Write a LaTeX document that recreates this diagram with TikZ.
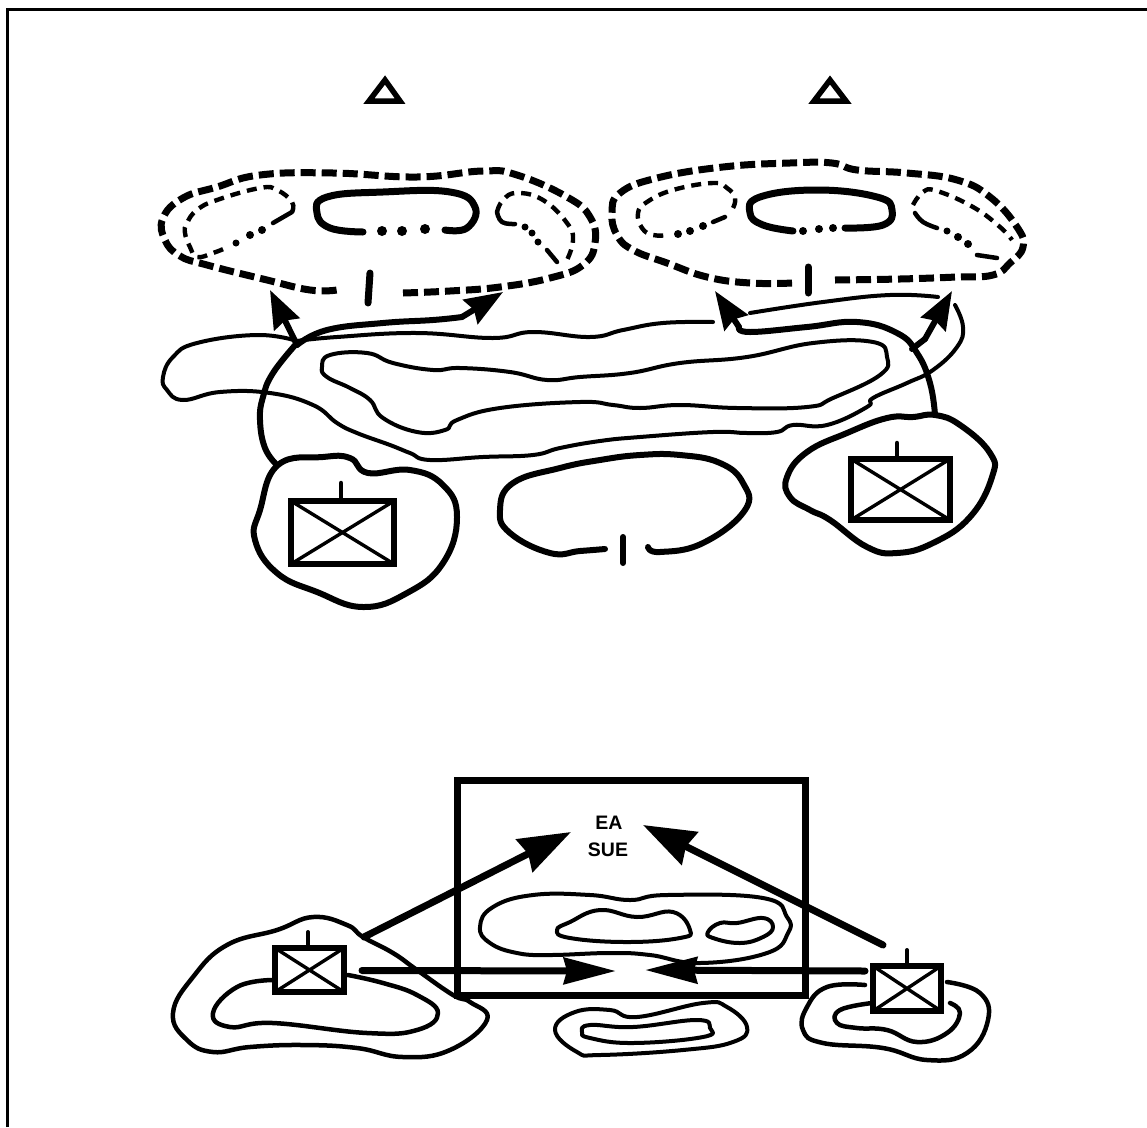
\documentclass[tikz,border=0pt]{standalone}
\usepackage{fontspec}
\setmainfont{Liberation Sans}
\usetikzlibrary{arrows.meta}
\tikzset{
  thin line/.style={line width=4pt,line cap=round,line join=round},
  mid thin/.style={line width=4.5pt,line cap=round,line join=round},
  med line/.style={line width=6pt,line cap=round,line join=round},
  heavy line/.style={line width=7pt,line cap=round,line join=round},
  dash big/.style={line width=7pt,dash pattern=on 15pt off 6pt,line join=round},
  dash small/.style={line width=4.4pt,dash pattern=on 10pt off 7pt,line join=round},
  dotmark/.style={fill=black,draw=none},
  xbox/.style={line width=5.5pt,line join=miter},
  xcross/.style={line width=3.4pt},
  small head/.style={-{Stealth[length=38pt,width=28pt,inset=4pt]}},
  big head/.style={-{Stealth[length=52pt,width=36pt,inset=4pt]}},
  flat head/.style={-{Stealth[length=52pt,width=26pt,inset=3pt]}},
  tri/.style={line width=5.5pt,line join=miter}
}
\begin{document}
\begin{tikzpicture}[x=1pt,y=-1pt,tension=0.75]
\useasboundingbox (0,0) rectangle (1147,1127);
\fill[white] (0,0) rectangle (1147,1127);
% frame
\draw[line width=3pt] (7,1127) -- (7,9.5) -- (1147,9.5);
% triangles
\draw[tri] (385,80) -- (400,101) -- (369,101) -- cycle;
\draw[tri] (830,80) -- (846,101) -- (814,101) -- cycle;
% --- upper left objective
\draw[dash big] plot[smooth] coordinates {(403,293) (450,291) (500,287) (550,278) (583,265) (595,243) (590,217) (567,197) (517,175) (483,171) (417,177) (333,173) (260,175) (217,187) (183,198) (163,218) (165,240) (180,256) (207,265) (267,280) (310,290) (337,290)};
\draw[dash small] plot[smooth] coordinates {(292,212) (292,202) (277,190) (260,188) (217,200) (197,210) (187,223) (185,233) (190,247) (197,257) (213,253) (228,247)};
\fill[dotmark] (236,243) circle (3.5) (250,235) circle (4) (262,230) circle (4);
\draw[mid thin] (273,223) -- (292,212);
\draw[heavy line] plot[smooth] coordinates {(363,232) (330,228) (317,213) (327,197) (383,192) (450,192) (475,207) (467,228) (445,230)};
\fill[dotmark] (382,231) circle (5) (402,231) circle (5) (425,229) circle (5);
\draw[dash small] plot[smooth] coordinates {(497,212) (503,200) (517,193) (543,200) (567,223) (573,240) (567,260)};
\draw[mid thin] plot[smooth] coordinates {(497,212) (502,222) (515,224)};
\fill[dotmark] (525,227) circle (3.5) (532,233) circle (3.5) (538,242) circle (3.5);
\draw[mid thin] (547,250) -- (557,262);
\draw[heavy line] (370,273) -- (368,303);
% --- upper right objective
\draw[dash big] plot[smooth] coordinates {(835,280) (900,279) (957,277) (993,275) (1010,263) (1023,247) (1017,227) (990,197) (957,180) (907,173) (857,170) (832,163) (790,163) (723,167) (657,178) (620,193) (612,213) (617,235) (633,250) (667,263) (707,277) (750,283) (793,283)};
\draw[dash small] plot[smooth] coordinates {(733,208) (735,198) (727,188) (713,183) (673,190) (647,202) (638,213) (642,228) (653,235) (668,235)};
\fill[dotmark] (678,234) circle (4) (690,231) circle (4) (703,226) circle (4);
\draw[mid thin] (713,222) -- (725,217);
\draw[heavy line] plot[smooth] coordinates {(793,231) (763,225) (750,213) (760,197) (817,190) (877,197) (892,210) (883,225) (845,228)};
\fill[dotmark] (803,231) circle (4) (819,229) circle (4) (833,228) circle (4);
\draw[dash small] plot[smooth] coordinates {(913,205) (923,192) (937,191) (973,207) (1000,227) (1012,240)};
\draw[mid thin] plot[smooth] coordinates {(915,213) (923,222) (937,228)};
\fill[dotmark] (947,231) circle (3.5) (958,237) circle (4) (968,244) circle (4);
\draw[mid thin] plot[smooth] coordinates {(977,255) (997,258)};
\draw[heavy line] (808,267) -- (808,293);
% --- thin terrain, top band
\draw[thin line] plot[smooth] coordinates {(297,341) (257,335) (197,343) (173,357) (163,377) (167,390) (183,400) (220,392) (270,393) (313,405) (337,423) (357,433) (390,445) (410,453) (430,460) (483,457) (533,455) (560,448) (600,441) (640,437) (713,432) (747,433) (777,432) (793,425) (827,425) (867,407) (873,398) (907,383) (933,370) (957,347) (963,327) (955,305)};
\draw[thin line] plot[smooth] coordinates {(297,341) (337,337) (417,333) (493,338) (533,332) (590,337) (623,330) (663,323) (713,322)};
\draw[thin line] plot[smooth] coordinates {(750,313) (823,302) (890,295) (938,297)};
\draw[thin line] plot[smooth cycle] coordinates {(322,367) (330,355) (367,353) (393,363) (433,370) (460,368) (510,372) (547,380) (580,377) (630,373) (680,363) (747,357) (813,343) (873,342) (887,357) (880,375) (833,398) (807,407) (737,408) (680,405) (640,408) (613,405) (580,402) (500,408) (457,420) (445,430) (417,432) (383,418) (370,400) (350,388) (327,377)};
% --- thick attack routes
\draw[med line] plot[smooth] coordinates {(277,465) (265,448) (260,420) (263,397) (273,373) (297,343)};
\draw[med line,small head] (297,345) -- (270,290);
\draw[med line] plot[smooth] coordinates {(297,345) (327,330) (383,323) (433,320) (462,317)};
\draw[med line,small head] (462,317) -- (503,292);
\draw[med line] plot[smooth] coordinates {(935,415) (930,383) (917,353) (897,333) (857,322) (807,327) (750,332) (739,327)};
\draw[med line,small head] (739,327) -- (715,291);
\draw[med line] (912,349) -- (925,339);
\draw[med line,small head] (925,339) -- (952,291);
% --- lower blobs of the upper sketch
\draw[med line] plot[smooth cycle] coordinates {(278,465) (323,457) (350,458) (368,473) (410,470) (443,485) (457,517) (443,563) (407,593) (363,607) (317,592) (277,573) (255,540) (260,510)};
\draw[xbox] (291,501) rectangle (394,564);
\draw[xcross] (291,501) -- (394,564) (291,564) -- (394,501);
\draw[mid thin] (341,483) -- (341,501);
\draw[med line] plot[smooth] coordinates {(605,549) (580,551) (550,553) (510,533) (500,510) (513,483) (560,468) (600,460) (640,455) (680,455) (720,463) (743,483) (745,510) (703,543) (660,552) (648,547)};
\draw[med line] (623,537) -- (623,563);
\draw[med line] plot[smooth cycle] coordinates {(935,415) (960,425) (990,453) (992,477) (970,517) (933,543) (897,553) (867,547) (830,520) (810,510) (790,497) (787,477) (807,452) (847,433) (887,418) (913,417)};
\draw[xbox] (851,459) rectangle (950,520);
\draw[xcross] (851,459) -- (950,520) (851,520) -- (950,459);
\draw[mid thin] (897,443) -- (897,459);
% --- lower sketch: engagement area
\draw[heavy line,line cap=butt,line join=miter] (457,995) -- (457,780) -- (805,780) -- (805,995) -- cycle;
\node[font=\bfseries\fontsize{19.5}{21}\selectfont,inner sep=0pt] (ea) at (609,823) {EA};
\node[font=\bfseries\fontsize{19.5}{21}\selectfont,inner sep=0pt] (sue) at (608,850) {SUE};
\draw[thin line] plot[smooth cycle] coordinates {(480,927) (493,907) (533,895) (590,895) (630,900) (667,895) (763,898) (787,917) (788,933) (767,953) (700,963) (650,955) (610,953) (550,955) (517,953) (490,943)};
\draw[thin line] plot[smooth cycle] coordinates {(557,930) (570,922) (600,910) (637,917) (673,912) (690,930) (680,938) (627,942) (570,938)};
\draw[thin line] plot[smooth cycle] coordinates {(708,932) (720,923) (737,923) (763,918) (773,927) (763,937) (740,943) (713,938)};
\draw[thin line] plot[smooth cycle] coordinates {(555,1030) (575,1012) (610,1010) (637,1017) (703,1003) (727,1007) (747,1027) (733,1042) (683,1050) (600,1055) (577,1052)};
\draw[thin line] plot[smooth cycle] coordinates {(582,1032) (590,1025) (633,1027) (697,1020) (710,1028) (703,1037) (633,1043) (590,1038)};
% left blob
\draw[mid thin] plot[smooth cycle] coordinates {(363,937) (347,925) (313,917) (277,930) (227,945) (193,977) (173,1013) (187,1040) (213,1052) (250,1047) (303,1045) (357,1048) (403,1057) (450,1050) (487,1020) (470,1002) (453,995) (417,970) (393,953)};
\draw[mid thin] plot[smooth] coordinates {(272,980) (237,987) (213,1013) (230,1027) (273,1023) (367,1033) (417,1030) (438,1013) (417,995) (383,983) (348,975)};
\draw[xbox] (275,948) rectangle (344,992);
\draw[xcross] (275,948) -- (344,992) (275,992) -- (344,948);
\draw[thin line] (308,932) -- (308,948);
% right blob
\draw[mid thin] plot[smooth] coordinates {(865,985) (827,987) (807,1007) (803,1030) (823,1043) (883,1048) (927,1060) (967,1053) (988,1020) (980,993) (947,982)};
\draw[mid thin] plot[smooth] coordinates {(872,1003) (840,1010) (837,1023) (857,1028) (887,1030) (917,1042) (947,1033) (960,1013) (950,1003)};
\draw[xbox] (873,966) rectangle (941,1011);
\draw[xcross] (873,966) -- (941,1011) (873,1011) -- (941,966);
\draw[thin line] (907,950) -- (907,966);
% arrows
\draw[heavy line,big head] (364,937) -- (571,832);
\draw[heavy line,big head] (883,945) -- (643,825);
\draw[heavy line,flat head] (362,970.5) -- (616,971);
\draw[heavy line,flat head] (865,971) -- (645,970);
\end{tikzpicture}
\end{document}
